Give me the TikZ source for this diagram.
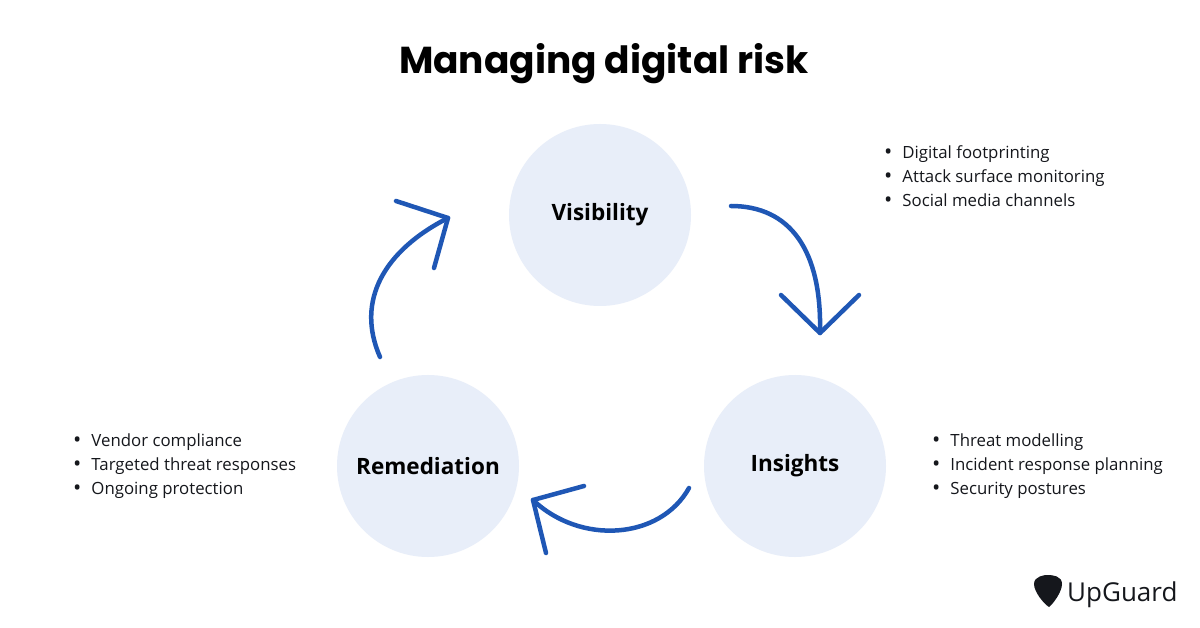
\documentclass[tikz,border=0pt]{standalone}
\usepackage{fontspec}
\setmainfont{Open Sans}
\newfontfamily\titlefont{Poppins}
\definecolor{circ}{HTML}{E8EEF9}
\definecolor{arr}{HTML}{1F57B5}
\definecolor{ink}{HTML}{15171C}
\newcommand{\bul}{{\fontsize{22}{24}\selectfont\raisebox{-1pt}{\textbullet}}\hspace{10pt}}
\begin{document}
\begin{tikzpicture}[x=1pt,y=-1pt,
  stage/.style={circle,fill=circ,minimum size=182pt,inner sep=0pt,font=\fontsize{22.5}{24}\selectfont\bfseries,text=black},
  arrline/.style={draw=arr,line width=4.5pt,line cap=round,line join=round},
  blist/.style={align=left,anchor=north west,font=\fontsize{16.8}{24}\selectfont,text=ink,inner sep=0pt}]
\useasboundingbox (0,0) rectangle (1200,628);
\fill[white] (0,0) rectangle (1200,628);
\node (title) at (604,64) {\titlefont\fontsize{37.5}{40}\selectfont\bfseries Managing digital risk};
\node[stage] (vis) at (600,215) {Visibility};
\node[stage] (ins) at (795,466) {Insights};
\node[stage] (rem) at (428,466) {Remediation};
% arrows
\coordinate (a1s) at (731,206); \coordinate (a1e) at (820,333);
\draw[arrline] (a1s) .. controls (790,206) and (822,250) .. (a1e);
\draw[arrline] (781,295) -- (a1e) -- (859,295);
\coordinate (a2s) at (689,488); \coordinate (a2e) at (533,500);
\draw[arrline] (a2s) .. controls (660,540) and (580,545) .. (a2e);
\draw[arrline] (584,486) -- (a2e) -- (546,553);
\coordinate (a3s) at (380,357); \coordinate (a3e) at (448,218);
\draw[arrline] (a3s) .. controls (355,300) and (385,250) .. (a3e);
\draw[arrline] (396,201) -- (a3e) -- (434,268);
% lists
\node[blist] (l1) at (884,145) {\bul Digital footprinting\\\bul Attack surface monitoring\\\bul Social media channels};
\node[blist] (l2) at (932,434) {\bul Threat modelling\\\bul Incident response planning\\\bul Security postures};
\node[blist] (l3) at (73,434) {\bul Vendor compliance\\\bul Targeted threat responses\\\bul Ongoing protection};
% logo
\fill[ink] (1034,584) .. controls (1034,576) and (1045,575) .. (1047,575) .. controls (1053,575) and (1062,576) .. (1062,584) .. controls (1062,592) and (1053,604) .. (1049,607) .. controls (1044,604) and (1034,592) .. (1034,584) -- cycle;
\node[anchor=west,inner sep=0pt,text=ink] (logo) at (1067,595) {\fontsize{26}{27}\selectfont UpGuard};
\end{tikzpicture}
\end{document}
